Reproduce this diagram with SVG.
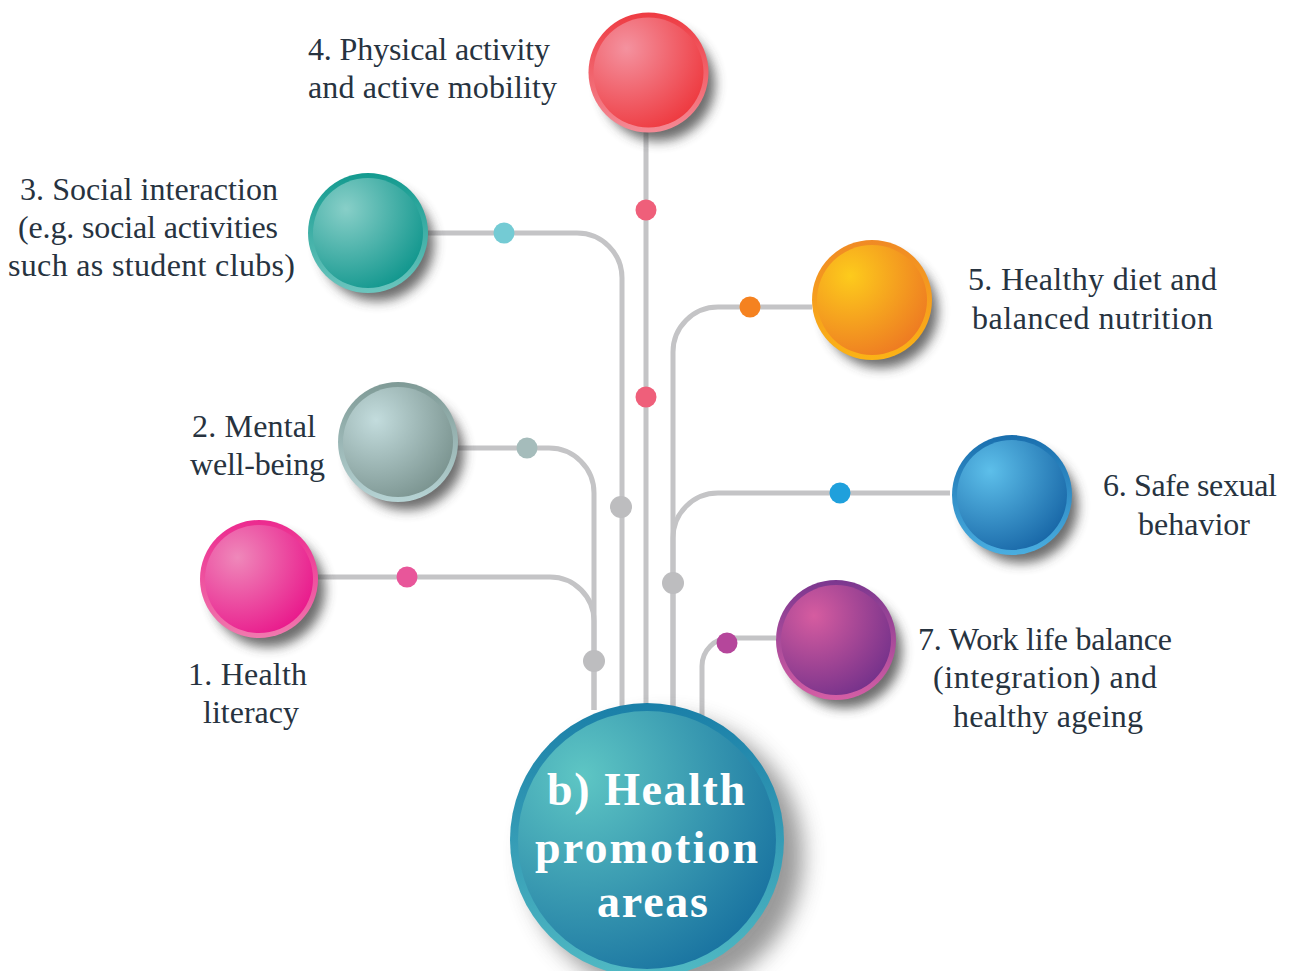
<svg xmlns="http://www.w3.org/2000/svg" width="1290" height="971" viewBox="0 0 1290 971">
<style>
.lbl{font-family:"Liberation Serif","Times New Roman",serif;font-size:32px;fill:#27333f}
.ctr{font-family:"Liberation Serif","Times New Roman",serif;font-size:46px;font-weight:bold;fill:#ffffff;text-anchor:middle}
.mid{text-anchor:middle}
.con{fill:none;stroke:#c4c4c6;stroke-width:5}
.gdot{fill:#bdbdbf}
.shadow{fill:#3a3a3a;opacity:0.75;filter:url(#blur)}
.shadowc{fill:#555;opacity:0.6;filter:url(#blur2)}
</style>
<defs>
<filter id="blur" x="-30%" y="-30%" width="160%" height="160%"><feGaussianBlur stdDeviation="6"/></filter>
<filter id="blur2" x="-30%" y="-30%" width="160%" height="160%"><feGaussianBlur stdDeviation="11"/></filter>
<linearGradient id="rRed" x1="0" y1="0" x2="0" y2="1"><stop offset="0" stop-color="#ee3b42"/><stop offset="1" stop-color="#f48a95"/></linearGradient>
<radialGradient id="iRed" cx="0.3" cy="0.28" r="0.8"><stop offset="0" stop-color="#f4929f"/><stop offset="1" stop-color="#ee3a40"/></radialGradient>
<linearGradient id="rTeal" x1="0" y1="0" x2="0" y2="1"><stop offset="0" stop-color="#139a8f"/><stop offset="1" stop-color="#6cc5be"/></linearGradient>
<radialGradient id="iTeal" cx="0.3" cy="0.28" r="0.8"><stop offset="0" stop-color="#88cfc8"/><stop offset="1" stop-color="#12978e"/></radialGradient>
<linearGradient id="rOr" x1="0" y1="0" x2="0" y2="1"><stop offset="0" stop-color="#f08a24"/><stop offset="1" stop-color="#fbb316"/></linearGradient>
<radialGradient id="iOr" cx="0.3" cy="0.28" r="0.8"><stop offset="0" stop-color="#fdcb1c"/><stop offset="1" stop-color="#ee7b22"/></radialGradient>
<linearGradient id="rGr" x1="0" y1="0" x2="0" y2="1"><stop offset="0" stop-color="#7f9a96"/><stop offset="1" stop-color="#b6d3d4"/></linearGradient>
<radialGradient id="iGr" cx="0.3" cy="0.3" r="0.8"><stop offset="0" stop-color="#c3dcdd"/><stop offset="1" stop-color="#7a938f"/></radialGradient>
<linearGradient id="rBl" x1="0" y1="0" x2="0" y2="1"><stop offset="0" stop-color="#1a6fae"/><stop offset="1" stop-color="#4aaee0"/></linearGradient>
<radialGradient id="iBl" cx="0.3" cy="0.28" r="0.8"><stop offset="0" stop-color="#5dbfea"/><stop offset="1" stop-color="#1968a8"/></radialGradient>
<linearGradient id="rPk" x1="0" y1="0" x2="0" y2="1"><stop offset="0" stop-color="#ec2a8f"/><stop offset="1" stop-color="#f079ae"/></linearGradient>
<radialGradient id="iPk" cx="0.3" cy="0.3" r="0.8"><stop offset="0" stop-color="#ef88ba"/><stop offset="1" stop-color="#e9188b"/></radialGradient>
<linearGradient id="rPu" x1="0" y1="0" x2="0" y2="1"><stop offset="0" stop-color="#7b378f"/><stop offset="1" stop-color="#d55ea5"/></linearGradient>
<radialGradient id="iPu" cx="0.3" cy="0.28" r="0.8"><stop offset="0" stop-color="#d65ca0"/><stop offset="1" stop-color="#76328b"/></radialGradient>
<linearGradient id="rCt" x1="0" y1="0" x2="0" y2="1"><stop offset="0" stop-color="#1a7fa8"/><stop offset="1" stop-color="#50b9c3"/></linearGradient>
<radialGradient id="iCt" cx="0.25" cy="0.25" r="0.85"><stop offset="0" stop-color="#5ec6c4"/><stop offset="1" stop-color="#1a74a1"/></radialGradient>
</defs>

<g id="connectors">
<path class="con" d="M318 577 H550 A44 44 0 0 1 594 621 V710"/>
<path class="con" d="M457 448 H549 A45 45 0 0 1 594 493 V710"/>
<path class="con" d="M428 233 H577 A45 45 0 0 1 622 278 V710"/>
<path class="con" d="M646 130 V710"/>
<path class="con" d="M812 307 H718 A45 45 0 0 0 673 352 V710"/>
<path class="con" d="M950 493 H718 A45 45 0 0 0 673 538 V710"/>
<path class="con" d="M776 638 H730 A28 28 0 0 0 702 666 V716"/>
<circle cx="407" cy="577" r="10.5" fill="#e8569a"/>
<circle cx="527" cy="448" r="10.5" fill="#a5bcbb"/>
<circle cx="504" cy="233" r="10.5" fill="#74cbd4"/>
<circle cx="646" cy="210" r="10.5" fill="#ef5f7a"/>
<circle cx="646" cy="397" r="10.5" fill="#ef5f7a"/>
<circle cx="750" cy="307" r="10.5" fill="#f58220"/>
<circle cx="840" cy="493" r="10.5" fill="#1fa0dc"/>
<circle cx="727" cy="643" r="10.5" fill="#b5469b"/>
<circle class="gdot" cx="594" cy="661" r="11"/>
<circle class="gdot" cx="621" cy="507" r="11"/>
<circle class="gdot" cx="673" cy="583" r="11"/>
</g>

<g id="node-center">
<circle class="shadowc" cx="665" cy="856" r="138"/>
<circle cx="647" cy="840" r="137" fill="url(#rCt)"/>
<circle cx="647" cy="840" r="129" fill="url(#iCt)"/>
<text class="ctr" x="646" y="805" textLength="198">b) Health</text>
<text class="ctr" x="646.5" y="863" textLength="223">promotion</text>
<text class="ctr" x="652.5" y="917" textLength="111">areas</text>
</g>

<g id="node-1">
<circle class="shadow" cx="268" cy="590" r="57"/>
<circle cx="259" cy="579" r="59" fill="url(#rPk)"/>
<circle cx="259" cy="579" r="54" fill="url(#iPk)"/>
<text class="lbl mid" x="247.5" y="685" textLength="119">1. Health</text>
<text class="lbl mid" x="251" y="723" textLength="96">literacy</text>
</g>

<g id="node-2">
<circle class="shadow" cx="407" cy="453" r="57"/>
<circle cx="398" cy="442" r="60" fill="url(#rGr)"/>
<circle cx="398" cy="442" r="55" fill="url(#iGr)"/>
<text class="lbl mid" x="254" y="437" textLength="124">2. Mental</text>
<text class="lbl mid" x="257.5" y="475" textLength="135">well-being</text>
</g>

<g id="node-3">
<circle class="shadow" cx="377" cy="244" r="57"/>
<circle cx="368" cy="233" r="60" fill="url(#rTeal)"/>
<circle cx="368" cy="233" r="55" fill="url(#iTeal)"/>
<text class="lbl mid" x="149" y="200" textLength="258">3. Social interaction</text>
<text class="lbl mid" x="148" y="238" textLength="260">(e.g. social activities</text>
<text class="lbl mid" x="151.5" y="276" textLength="287">such as student clubs)</text>
</g>

<g id="node-4">
<circle class="shadow" cx="658" cy="84" r="57"/>
<circle cx="648.5" cy="72.5" r="60" fill="url(#rRed)"/>
<circle cx="648.5" cy="72.5" r="55" fill="url(#iRed)"/>
<text class="lbl" x="308" y="60" textLength="242">4. Physical activity</text>
<text class="lbl" x="308" y="98" textLength="249">and active mobility</text>
</g>

<g id="node-5">
<circle class="shadow" cx="881" cy="311" r="57"/>
<circle cx="872" cy="300" r="60" fill="url(#rOr)"/>
<circle cx="872" cy="300" r="55" fill="url(#iOr)"/>
<text class="lbl mid" x="1092.5" y="290" textLength="249">5. Healthy diet and</text>
<text class="lbl mid" x="1092.5" y="329" textLength="241">balanced nutrition</text>
</g>

<g id="node-6">
<circle class="shadow" cx="1021" cy="506" r="57"/>
<circle cx="1012" cy="495" r="60" fill="url(#rBl)"/>
<circle cx="1012" cy="495" r="55" fill="url(#iBl)"/>
<text class="lbl mid" x="1190" y="496" textLength="174">6. Safe sexual</text>
<text class="lbl mid" x="1194" y="535" textLength="112">behavior</text>
</g>

<g id="node-7">
<circle class="shadow" cx="845" cy="651" r="57"/>
<circle cx="836" cy="640" r="60" fill="url(#rPu)"/>
<circle cx="836" cy="640" r="55" fill="url(#iPu)"/>
<text class="lbl mid" x="1045" y="650" textLength="254">7. Work life balance</text>
<text class="lbl mid" x="1045" y="688" textLength="224">(integration) and</text>
<text class="lbl mid" x="1048" y="727" textLength="190">healthy ageing</text>
</g>
</svg>
